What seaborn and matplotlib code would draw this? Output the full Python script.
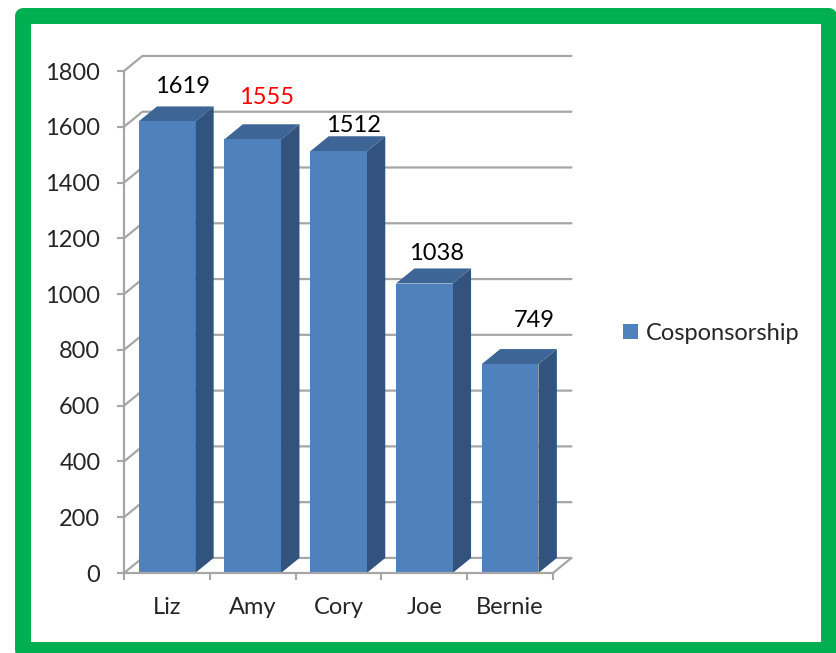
import numpy as np
import matplotlib
matplotlib.use('Agg')
import matplotlib.pyplot as plt
from matplotlib.patches import Rectangle
import seaborn as sns

# ── data ─────────────────────────────────────────────────────────────
names = ['Liz', 'Amy', 'Cory', 'Joe', 'Bernie']
values = [1619, 1555, 1512, 1038, 749]
series_name = 'Cosponsorship'
yticks = list(range(0, 1801, 200))

# label nudges in pixels (Excel places them a bit irregularly)
label_dx = [16, 14, 15, 12, 24]
label_dy = [20, 27, 11, 15, 29]
label_colors = ['black', 'red', 'black', 'black', 'black']

# ── style ────────────────────────────────────────────────────────────
sns.set_style('white')
plt.rcParams['font.family'] = ['Lato', 'DejaVu Sans']

front = '#4F81BD'
side = '#31537D'
top = '#3D6595'
grid_c = '#A6A6A6'
dx, dy = 0.215, 54   # fake 3d depth (category units, value units)
fs = 17

fig = plt.figure(figsize=(8.37, 6.53), dpi=100)
ax = fig.add_axes([124/837, 80/653, 429/837, 502/653])

sns.barplot(x=names, y=values, color=front, saturation=1, width=0.66,
            label=series_name, ax=ax, zorder=3, linewidth=0)
if ax.get_legend() is not None:
    ax.get_legend().remove()
ax.set_xlim(-0.5, 4.5)
ax.set_ylim(0, 1800)

# back wall gridlines + left wall diagonals
for v in yticks:
    ax.plot([-0.5, -0.5+dx, 4.5+dx], [v, v+dy, v+dy], color=grid_c,
            lw=1.6, clip_on=False, zorder=1)
# floor right edge
ax.plot([4.5, 4.5+dx], [0, dy], color=grid_c, lw=1.6, clip_on=False, zorder=1)

# side and top faces of each bar
for p, v, lc, ox, oy in zip(ax.patches, values, label_colors, label_dx, label_dy):
    x0, w, h = p.get_x(), p.get_width(), p.get_height()
    ax.fill([x0+w, x0+w+dx, x0+w+dx, x0+w], [0, dy, h+dy, h],
            color=side, lw=0, zorder=2.9, clip_on=False)
    ax.fill([x0, x0+dx, x0+w+dx, x0+w], [h, h+dy, h+dy, h],
            color=top, lw=0, zorder=2.9, clip_on=False)
    ax.annotate(f'{v}', (x0 + w/2, h + dy), xytext=(ox, oy),
                textcoords='offset pixels', ha='center', va='center',
                fontsize=fs, color=lc, annotation_clip=False)

# axes
for s in ['top', 'right']:
    ax.spines[s].set_visible(False)
for s in ['left', 'bottom']:
    ax.spines[s].set_color(grid_c)
    ax.spines[s].set_linewidth(1.6)
    ax.spines[s].set_zorder(4)
ax.set_yticks(yticks)
ax.tick_params(axis='y', length=5, width=1.5, color=grid_c, pad=12,
               labelsize=fs, left=True)
ax.tick_params(axis='x', length=0, pad=17, labelsize=fs)
ax.set_xticks(np.arange(-0.5, 5, 1), minor=True)
ax.tick_params(axis='x', which='minor', length=5, width=1.5, color=grid_c,
               bottom=True)
ax.set_xlabel('')
ax.set_ylabel('')

handles, labels = ax.get_legend_handles_labels()
fig.legend(handles[:1], labels[:1], loc='center left',
           bbox_to_anchor=(623/837, 1 - 333/653),
           frameon=False, fontsize=fs, handlelength=0.62, handleheight=0.62,
           handletextpad=0.35, borderpad=0, borderaxespad=0)

# green frame
fig.patches.append(Rectangle((23/837, 3/653), 806.5/837, 634/653,
                             transform=fig.transFigure, fill=False,
                             edgecolor='#00B050', lw=11.5, joinstyle='round'))

plt.savefig('out.png', dpi=100, facecolor='white')
